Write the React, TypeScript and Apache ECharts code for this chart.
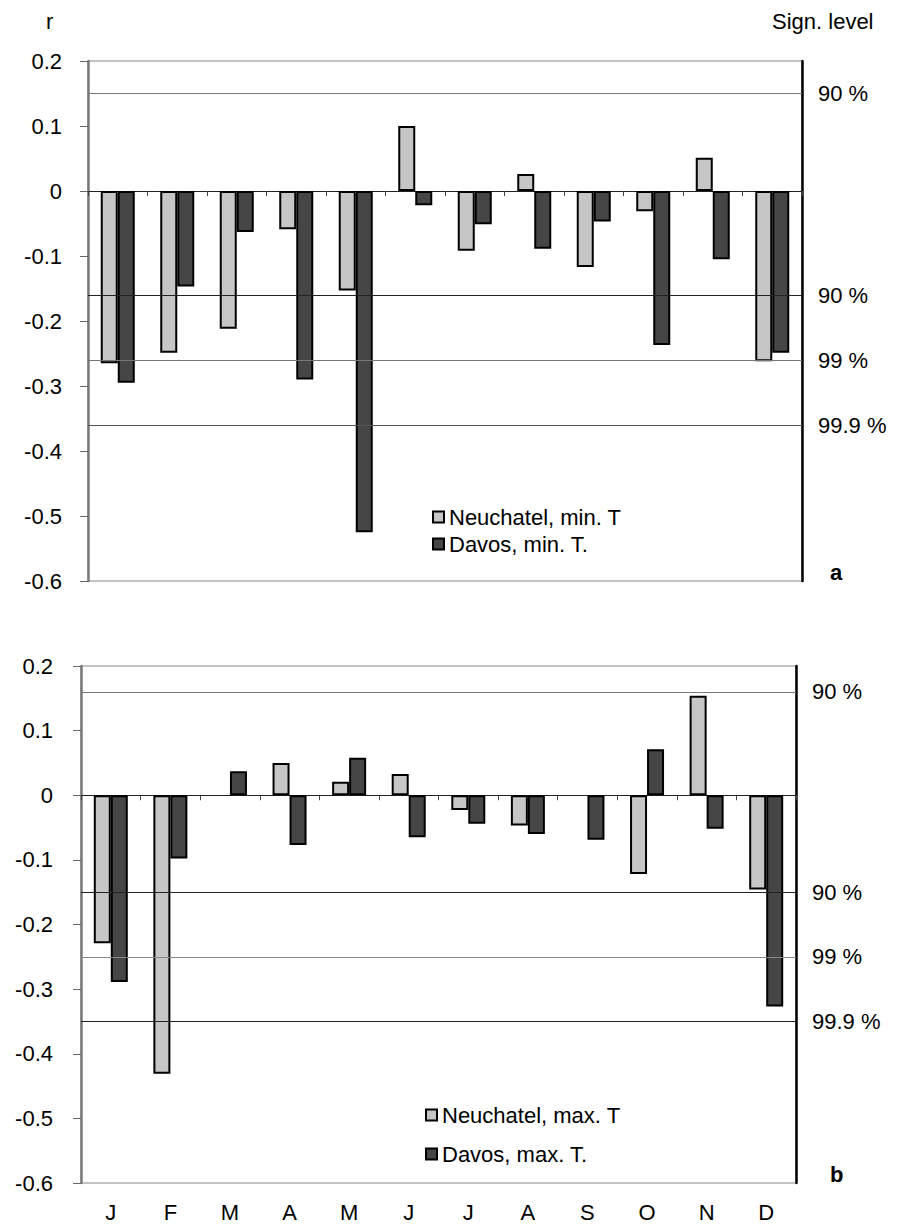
import React, { useEffect, useRef } from "react";
import * as echarts from "echarts";

const months = ["J", "F", "M", "A", "M", "J", "J", "A", "S", "O", "N", "D"];

// Panel a: correlation with minimum temperature
const neuchatelMin = [-0.265, -0.249, -0.212, -0.059, -0.153, 0.1, -0.092, 0.026, -0.117, -0.031, 0.051, -0.262];
const davosMin = [-0.295, -0.147, -0.063, -0.29, -0.525, -0.022, -0.051, -0.089, -0.047, -0.237, -0.105, -0.249];

// Panel b: correlation with maximum temperature
const neuchatelMax = [-0.229, -0.431, 0, 0.05, 0.021, 0.033, -0.023, -0.047, 0, -0.122, 0.154, -0.146];
const davosMax = [-0.289, -0.098, 0.037, -0.077, 0.058, -0.065, -0.044, -0.06, -0.069, 0.071, -0.052, -0.327];

// Significance levels
const sigA = [0.146, -0.159, -0.263, -0.357];
const sigB = [0.159, -0.147, -0.254, -0.349];
const sigLabels = ["90 %", "90 %", "99 %", "99.9 %"];
const sigColorsA = ["#7a7a7a", "#222", "#777", "#555"];
const sigColorsB = ["#7a7a7a", "#222", "#888", "#222"];

const yTicks = { min: -0.6, max: 0.2, interval: 0.1 };

const FONT = "'Liberation Sans', Arial, sans-serif";
const FS = 22;

export default function App() {
  const ref = useRef<HTMLDivElement>(null);

  useEffect(() => {
    if (!ref.current) return;
    const chart = echarts.init(ref.current, null, { renderer: "svg" });

    const lightStyle = { color: "#c6c6c6", borderColor: "#000", borderWidth: 2 };
    const darkStyle = { color: "#464646", borderColor: "#000", borderWidth: 2 };

    const toBar = (arr: number[]) => arr.map((v) => (v === 0 ? null : v));

    const sigLine = (vals: number[], colors: string[]) => ({
      silent: true,
      symbol: "none",
      animation: false,
      lineStyle: { color: "#333", width: 1, type: "solid" },
      label: {
        show: true,
        position: "end",
        distance: 16,
        formatter: (p: any) => p.name,
        fontSize: FS,
        fontFamily: FONT,
        color: "#000",
      },
      data: vals.map((v, i) => ({
        yAxis: v,
        name: sigLabels[i],
        lineStyle: { color: colors[i], width: 1, type: "solid" },
      })),
    });

    const zeroAxis = (gridIndex: number) => ({
      type: "category",
      gridIndex,
      data: months,
      axisLine: { show: true, onZero: true, lineStyle: { color: "#222", width: 1 } },
      axisTick: { show: true, alignWithLabel: false, length: 5, lineStyle: { color: "#444" } },
      axisLabel: { show: false },
      splitLine: { show: false },
    });

    const leftY = (gridIndex: number, margin: number) => ({
      type: "value",
      gridIndex,
      position: "left",
      ...yTicks,
      axisLine: { show: true, lineStyle: { color: "#7a7a7a", width: 2.5 } },
      axisTick: { show: true, length: 8, lineStyle: { color: "#666" } },
      axisLabel: { fontSize: FS, fontFamily: FONT, color: "#000", margin },
      splitLine: { show: false },
    });

    const rightY = (gridIndex: number) => ({
      type: "value",
      gridIndex,
      position: "right",
      ...yTicks,
      axisLine: { show: true, lineStyle: { color: "#000", width: 2.5 } },
      axisTick: { show: false },
      axisLabel: { show: false },
      splitLine: { show: false },
    });

    const legendBase = {
      orient: "vertical",
      itemWidth: 11,
      itemHeight: 11,
      icon: "rect",
      selectedMode: false,
      textStyle: { fontSize: FS, fontFamily: FONT, color: "#000" },
    };

    chart.setOption({
      animation: false,
      backgroundColor: "#fff",
      textStyle: { fontFamily: FONT },
      grid: [
        { left: 88, right: 104, top: 61, height: 520, show: true, borderColor: "#888", borderWidth: 1 },
        { left: 81, right: 110, top: 666, height: 517, show: true, borderColor: "#888", borderWidth: 1 },
      ],
      xAxis: [
        zeroAxis(0),
        zeroAxis(1),
        {
          type: "category",
          gridIndex: 1,
          data: months,
          position: "bottom",
          axisLine: { show: false, onZero: false },
          axisTick: { show: false },
          axisLabel: { show: true, fontSize: FS, fontFamily: FONT, color: "#000", margin: 18 },
        },
      ],
      yAxis: [leftY(0, 26), rightY(0), leftY(1, 28), rightY(1)],
      legend: [
        { ...legendBase, left: 427, top: 501, itemGap: 5, data: ["Neuchatel, min. T", "Davos, min. T."] },
        { ...legendBase, left: 420, top: 1099, itemGap: 17, data: ["Neuchatel, max. T", "Davos, max. T."] },
      ],
      graphic: [
        { type: "text", left: 46, top: 10, style: { text: "r", fontSize: FS, fontFamily: FONT, fill: "#000" } },
        { type: "text", left: 772, top: 10, style: { text: "Sign. level", fontSize: FS, fontFamily: FONT, fill: "#000" } },
        { type: "text", left: 830, top: 561, style: { text: "a", fontSize: FS, fontWeight: "bold", fontFamily: FONT, fill: "#000" } },
        { type: "text", left: 830, top: 1163, style: { text: "b", fontSize: FS, fontWeight: "bold", fontFamily: FONT, fill: "#000" } },
      ],
      series: [
        {
          name: "Neuchatel, min. T",
          type: "bar",
          xAxisIndex: 0,
          yAxisIndex: 0,
          barWidth: 17,
          barGap: "0%",
          itemStyle: lightStyle,
          data: toBar(neuchatelMin),
          markLine: sigLine(sigA, sigColorsA),
          z: 3,
        },
        {
          name: "Davos, min. T.",
          type: "bar",
          xAxisIndex: 0,
          yAxisIndex: 0,
          barWidth: 17,
          barGap: "0%",
          itemStyle: darkStyle,
          data: toBar(davosMin),
          z: 3,
        },
        {
          name: "Neuchatel, max. T",
          type: "bar",
          xAxisIndex: 1,
          yAxisIndex: 2,
          barWidth: 17,
          barGap: "0%",
          itemStyle: lightStyle,
          data: toBar(neuchatelMax),
          markLine: sigLine(sigB, sigColorsB),
          z: 3,
        },
        {
          name: "Davos, max. T.",
          type: "bar",
          xAxisIndex: 1,
          yAxisIndex: 2,
          barWidth: 17,
          barGap: "0%",
          itemStyle: darkStyle,
          data: toBar(davosMax),
          z: 3,
        },
      ],
    });

    return () => chart.dispose();
  }, []);

  return (
    <div
      ref={ref}
      style={{ position: "absolute", left: 0, top: 0, width: 906, height: 1224, background: "#fff" }}
    />
  );
}
